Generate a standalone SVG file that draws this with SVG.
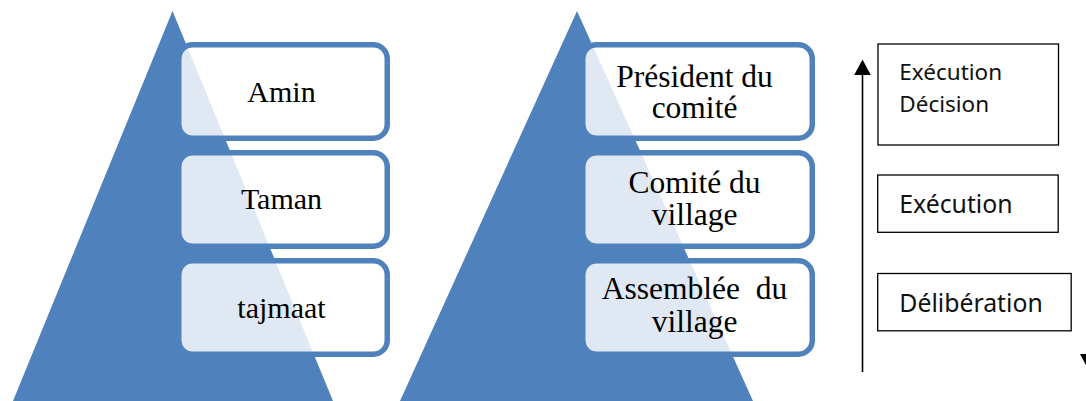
<svg xmlns="http://www.w3.org/2000/svg" width="1086" height="401" viewBox="0 0 1086 401">
<defs>
<style>
.tri{fill:#4f81bd;}
.pbox{fill:#ffffff;fill-opacity:0.82;stroke:#4f81bd;stroke-width:5.5;}
.pt{font-family:"Liberation Serif","Times New Roman",serif;fill:#000;text-anchor:middle;}
.rbox{fill:#ffffff;stroke:#000;stroke-width:1.3;}
.rt{font-family:"Noto Sans","Open Sans",sans-serif;fill:#111;}
.conn{stroke:#000;stroke-width:1.6;fill:none;}
.head{fill:#000;}
</style>
</defs>
<rect width="1086" height="401" fill="#ffffff"/>

<g id="pyramid-left">
<polygon class="tri" points="172.5,11 333,401 13,401"/>
<g id="node-amin">
<rect class="pbox" x="178.75" y="44.75" width="208.5" height="93.5" rx="14"/>
<text class="pt" x="281.5" y="101.5" font-size="30">Amin</text>
</g>
<g id="node-taman">
<rect class="pbox" x="178.75" y="152.75" width="208.5" height="93.5" rx="14"/>
<text class="pt" x="281.5" y="208.5" font-size="30">Taman</text>
</g>
<g id="node-tajmaat">
<rect class="pbox" x="178.75" y="260.75" width="208.5" height="93.5" rx="14"/>
<text class="pt" x="281.5" y="318.3" font-size="30">tajmaat</text>
</g>
</g>

<g id="pyramid-middle">
<polygon class="tri" points="577,11 753,401 400,401"/>
<g id="node-president">
<rect class="pbox" x="582.75" y="44.75" width="229.5" height="93.5" rx="14"/>
<text class="pt" font-size="31.5"><tspan x="694.5" y="86.7">Président du</tspan><tspan x="694.5" y="118.3">comité</tspan></text>
</g>
<g id="node-comite">
<rect class="pbox" x="582.75" y="152.75" width="229.5" height="93.5" rx="14"/>
<text class="pt" font-size="31.5"><tspan x="694.5" y="192.7">Comité du</tspan><tspan x="694.5" y="225">village</tspan></text>
</g>
<g id="node-assemblee">
<rect class="pbox" x="582.75" y="260.75" width="229.5" height="93.5" rx="14"/>
<text class="pt" font-size="31.5" xml:space="preserve"><tspan x="694.5" y="299">Assemblée  du</tspan><tspan x="694.5" y="331.7">village</tspan></text>
</g>
</g>

<g id="node-execution-decision">
<rect class="rbox" x="878" y="44" width="180.5" height="101"/>
<text class="rt" font-size="22.5"><tspan x="899.3" y="80">Exécution</tspan><tspan x="899.3" y="112">Décision</tspan></text>
</g>
<g id="node-execution">
<rect class="rbox" x="877.7" y="175" width="180.5" height="57.3"/>
<text class="rt" x="899.3" y="212.8" font-size="24.8">Exécution</text>
</g>
<g id="node-deliberation">
<rect class="rbox" x="877.7" y="273.5" width="193.5" height="57.3"/>
<text class="rt" x="899.3" y="311.5" font-size="24.8">Délibération</text>
</g>

<g id="connectors">
<line class="conn" x1="862.5" y1="372" x2="862.5" y2="74"/>
<polygon class="head" points="862.5,59.5 870.8,75 854.2,75"/>
<polygon class="head" points="1080,354 1096,354 1088,369"/>
</g>
</svg>
